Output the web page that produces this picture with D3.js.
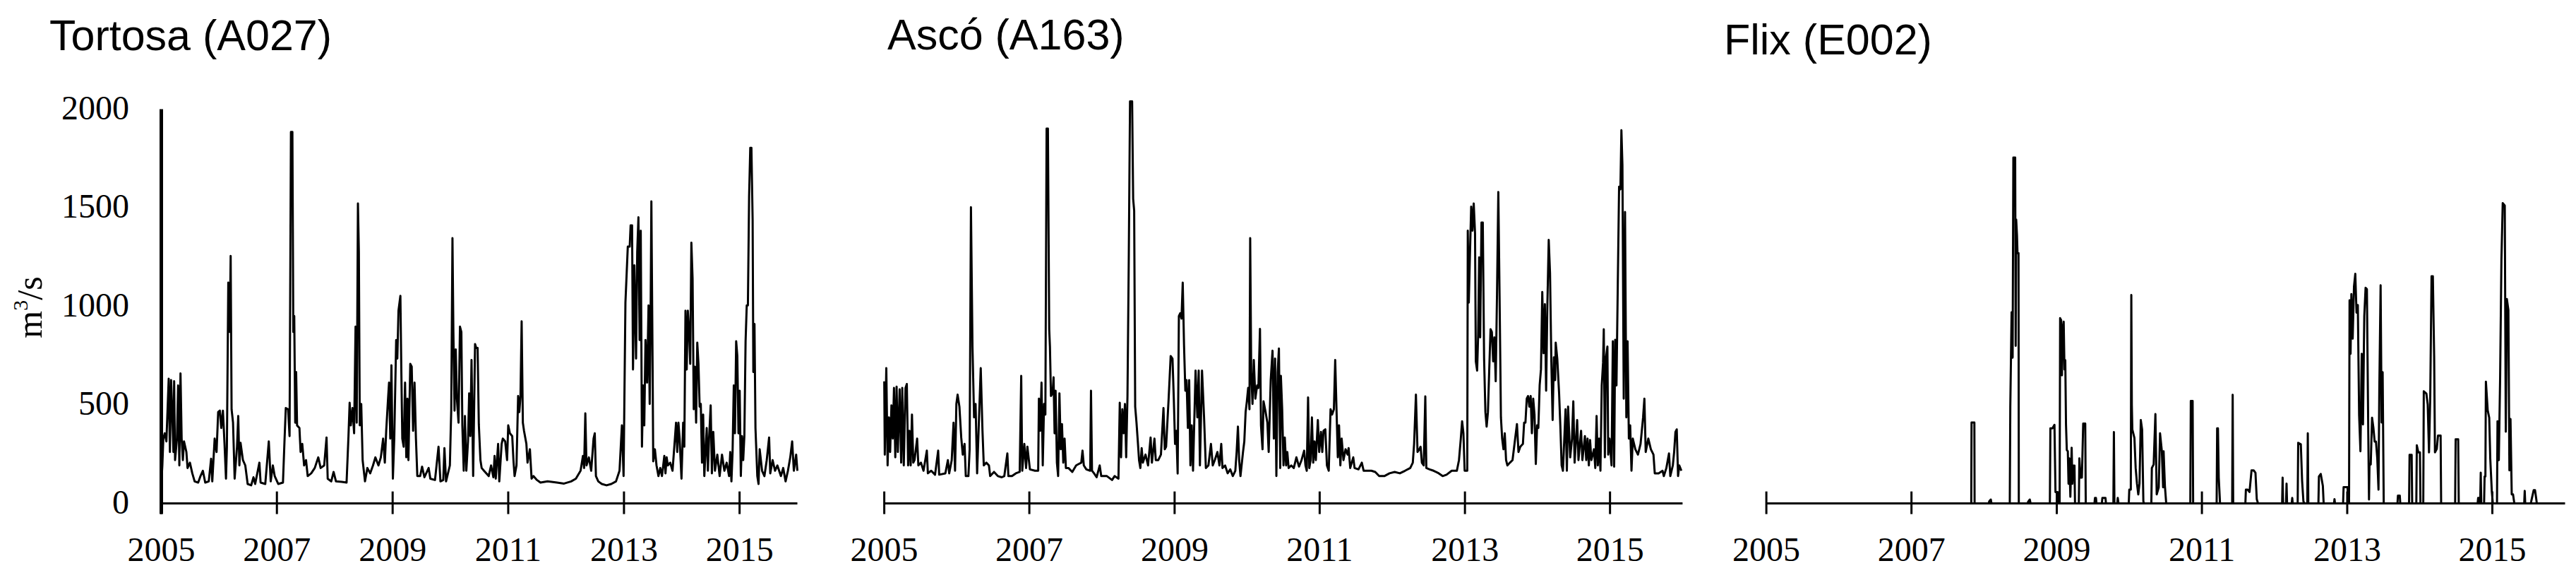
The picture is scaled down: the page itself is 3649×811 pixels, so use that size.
<!DOCTYPE html>
<html><head><meta charset="utf-8">
<script src="https://cdn.jsdelivr.net/npm/d3@7"></script>
<style>body{margin:0;background:#fff;} svg{display:block;}</style>
</head><body>
<svg id="chart" width="3649" height="811"></svg>
<script>
// ---- data ----
const tickYears = [2005, 2007, 2009, 2011, 2013, 2015];
const yTicks = [0, 500, 1000, 1500, 2000];
const stationNames = ["Tortosa (A027)", "Ascó (A163)", "Flix (E002)"];

// [decimal year, flow m3/s]
const tortosa = [[2005.000,100],[2005.018,193],[2005.035,329],[2005.059,356],[2005.088,315],[2005.128,633],[2005.149,261],[2005.169,626],[2005.189,464],[2005.210,261],[2005.222,620],[2005.238,220],[2005.271,329],[2005.291,599],[2005.312,193],[2005.332,660],[2005.352,329],[2005.373,220],[2005.393,315],[2005.434,261],[2005.454,180],[2005.495,207],[2005.536,153],[2005.577,112],[2005.638,106],[2005.678,139],[2005.719,166],[2005.760,106],[2005.821,112],[2005.862,227],[2005.882,112],[2005.923,329],[2005.956,261],[2005.984,464],[2006.013,471],[2006.037,383],[2006.066,471],[2006.094,302],[2006.119,126],[2006.135,288],[2006.159,1120],[2006.184,870],[2006.200,1256],[2006.216,478],[2006.241,410],[2006.269,126],[2006.310,288],[2006.331,444],[2006.351,193],[2006.371,308],[2006.412,220],[2006.453,193],[2006.494,99],[2006.555,92],[2006.595,133],[2006.624,99],[2006.697,207],[2006.718,106],[2006.799,99],[2006.860,315],[2006.893,112],[2006.930,193],[2006.962,139],[2007.023,99],[2007.105,106],[2007.133,329],[2007.154,484],[2007.194,478],[2007.219,342],[2007.243,1885],[2007.268,1885],[2007.284,870],[2007.300,951],[2007.317,410],[2007.333,667],[2007.349,396],[2007.390,383],[2007.410,261],[2007.439,302],[2007.471,193],[2007.504,220],[2007.533,139],[2007.594,153],[2007.655,180],[2007.716,234],[2007.757,180],[2007.818,193],[2007.859,335],[2007.879,126],[2007.940,112],[2007.981,160],[2008.022,112],[2008.123,110],[2008.205,106],[2008.238,342],[2008.258,511],[2008.278,396],[2008.307,484],[2008.335,356],[2008.360,897],[2008.380,410],[2008.401,1522],[2008.417,1276],[2008.433,396],[2008.458,505],[2008.482,220],[2008.523,112],[2008.564,180],[2008.612,153],[2008.661,193],[2008.702,234],[2008.755,193],[2008.796,234],[2008.836,329],[2008.865,207],[2008.889,369],[2008.918,518],[2008.938,613],[2008.959,329],[2008.979,701],[2009.004,126],[2009.028,329],[2009.061,829],[2009.081,735],[2009.101,978],[2009.134,1053],[2009.150,680],[2009.167,329],[2009.191,288],[2009.215,613],[2009.236,234],[2009.256,532],[2009.273,220],[2009.305,708],[2009.330,694],[2009.354,369],[2009.379,613],[2009.403,329],[2009.427,139],[2009.476,139],[2009.509,187],[2009.550,133],[2009.623,180],[2009.652,126],[2009.733,119],[2009.794,288],[2009.827,112],[2009.876,119],[2009.896,281],[2009.924,112],[2009.990,193],[2010.014,478],[2010.035,1346],[2010.051,870],[2010.071,471],[2010.092,782],[2010.112,532],[2010.140,410],[2010.165,897],[2010.189,870],[2010.206,396],[2010.230,166],[2010.251,444],[2010.275,166],[2010.304,315],[2010.324,559],[2010.344,342],[2010.365,728],[2010.393,139],[2010.426,809],[2010.446,789],[2010.470,789],[2010.491,403],[2010.519,220],[2010.540,180],[2010.580,166],[2010.662,139],[2010.703,193],[2010.743,133],[2010.764,241],[2010.784,126],[2010.825,302],[2010.845,112],[2010.886,302],[2010.906,329],[2010.947,315],[2010.980,220],[2011.000,396],[2011.029,356],[2011.069,342],[2011.090,220],[2011.110,139],[2011.143,193],[2011.171,545],[2011.192,464],[2011.212,545],[2011.232,924],[2011.253,410],[2011.273,369],[2011.314,302],[2011.334,207],[2011.375,275],[2011.404,126],[2011.436,139],[2011.497,119],[2011.558,106],[2011.681,112],[2011.844,106],[2011.966,101],[2012.088,112],[2012.170,126],[2012.251,166],[2012.292,241],[2012.312,180],[2012.333,457],[2012.353,193],[2012.394,234],[2012.434,166],[2012.455,248],[2012.475,329],[2012.496,356],[2012.516,139],[2012.557,112],[2012.618,99],[2012.699,92],[2012.781,99],[2012.862,112],[2012.923,166],[2012.964,396],[2012.993,139],[2013.025,1019],[2013.066,1303],[2013.099,1303],[2013.115,1411],[2013.140,1411],[2013.156,680],[2013.180,1208],[2013.209,735],[2013.229,1276],[2013.250,1452],[2013.270,829],[2013.290,1384],[2013.311,288],[2013.331,599],[2013.351,396],[2013.372,829],[2013.400,613],[2013.425,1005],[2013.445,505],[2013.461,964],[2013.474,1533],[2013.494,748],[2013.506,214],[2013.535,275],[2013.563,193],[2013.596,139],[2013.628,180],[2013.657,139],[2013.698,241],[2013.718,153],[2013.738,234],[2013.759,193],[2013.800,207],[2013.840,166],[2013.881,329],[2013.901,410],[2013.922,261],[2013.942,410],[2013.963,329],[2013.995,126],[2014.024,410],[2014.044,288],[2014.064,978],[2014.085,680],[2014.105,978],[2014.126,870],[2014.146,708],[2014.166,1323],[2014.187,1141],[2014.207,478],[2014.227,694],[2014.248,410],[2014.268,816],[2014.289,708],[2014.309,491],[2014.329,505],[2014.350,207],[2014.370,451],[2014.390,139],[2014.431,383],[2014.452,166],[2014.472,329],[2014.500,498],[2014.521,153],[2014.545,363],[2014.574,166],[2014.615,248],[2014.655,139],[2014.696,248],[2014.737,166],[2014.777,207],[2014.818,139],[2014.839,261],[2014.859,112],[2014.879,261],[2014.900,599],[2014.920,356],[2014.941,823],[2014.961,748],[2014.981,356],[2015.002,572],[2015.022,139],[2015.042,342],[2015.063,220],[2015.083,342],[2015.104,823],[2015.124,1005],[2015.144,1005],[2015.165,1560],[2015.185,1804],[2015.205,1804],[2015.226,1438],[2015.238,667],[2015.258,911],[2015.275,383],[2015.307,139],[2015.328,99],[2015.348,275],[2015.389,166],[2015.430,139],[2015.470,220],[2015.511,335],[2015.531,153],[2015.572,220],[2015.613,166],[2015.654,193],[2015.715,139],[2015.755,180],[2015.796,112],[2015.837,166],[2015.877,234],[2015.910,315],[2015.939,166],[2015.979,248],[2016.000,166]];

const asco = [[2005.000,620],[2005.007,248],[2005.028,687],[2005.046,193],[2005.064,437],[2005.081,261],[2005.099,498],[2005.117,329],[2005.134,586],[2005.152,234],[2005.170,593],[2005.187,261],[2005.212,579],[2005.233,207],[2005.248,586],[2005.269,193],[2005.293,586],[2005.311,606],[2005.329,193],[2005.347,369],[2005.364,193],[2005.382,451],[2005.400,207],[2005.417,220],[2005.453,329],[2005.470,193],[2005.506,207],[2005.541,166],[2005.587,268],[2005.601,153],[2005.647,166],[2005.700,146],[2005.743,268],[2005.757,146],[2005.842,153],[2005.877,220],[2005.895,153],[2005.930,220],[2005.955,410],[2005.976,166],[2005.994,505],[2006.011,552],[2006.036,491],[2006.061,335],[2006.082,248],[2006.107,302],[2006.124,139],[2006.160,139],[2006.177,275],[2006.195,1503],[2006.216,796],[2006.238,437],[2006.259,505],[2006.280,153],[2006.301,376],[2006.330,687],[2006.354,369],[2006.372,193],[2006.407,207],[2006.443,193],[2006.460,139],[2006.513,160],[2006.566,139],[2006.620,133],[2006.655,139],[2006.697,254],[2006.711,139],[2006.761,139],[2006.814,153],[2006.867,160],[2006.888,647],[2006.902,166],[2006.931,302],[2006.955,180],[2006.973,288],[2007.008,173],[2007.079,166],[2007.122,166],[2007.132,532],[2007.150,369],[2007.168,613],[2007.185,193],[2007.203,505],[2007.221,451],[2007.238,1902],[2007.256,1902],[2007.274,884],[2007.284,796],[2007.298,545],[2007.320,559],[2007.334,640],[2007.348,356],[2007.362,572],[2007.380,207],[2007.397,139],[2007.415,559],[2007.433,275],[2007.450,403],[2007.468,207],[2007.486,329],[2007.504,180],[2007.539,180],[2007.592,160],[2007.645,193],[2007.680,200],[2007.716,207],[2007.733,268],[2007.751,193],[2007.786,173],[2007.839,166],[2007.850,572],[2007.864,166],[2007.892,153],[2007.928,133],[2007.970,193],[2007.991,139],[2008.069,139],[2008.140,119],[2008.175,139],[2008.228,126],[2008.246,511],[2008.264,234],[2008.281,478],[2008.299,356],[2008.317,505],[2008.334,234],[2008.352,545],[2008.370,1249],[2008.387,2040],[2008.416,2040],[2008.430,1546],[2008.444,1486],[2008.458,491],[2008.476,410],[2008.494,315],[2008.511,220],[2008.529,180],[2008.547,281],[2008.564,207],[2008.600,248],[2008.635,193],[2008.670,335],[2008.688,207],[2008.723,329],[2008.741,220],[2008.776,220],[2008.812,248],[2008.847,484],[2008.865,275],[2008.883,288],[2008.918,532],[2008.946,748],[2008.971,735],[2008.989,532],[2009.006,302],[2009.024,369],[2009.042,152],[2009.059,951],[2009.077,965],[2009.095,938],[2009.112,1120],[2009.130,802],[2009.148,572],[2009.165,626],[2009.183,383],[2009.201,626],[2009.218,193],[2009.236,396],[2009.254,166],[2009.289,674],[2009.314,437],[2009.332,674],[2009.349,193],[2009.378,674],[2009.406,437],[2009.431,180],[2009.466,193],[2009.501,302],[2009.526,193],[2009.554,220],[2009.590,261],[2009.618,193],[2009.643,302],[2009.660,180],[2009.696,193],[2009.731,153],[2009.767,173],[2009.802,139],[2009.837,166],[2009.855,261],[2009.873,390],[2009.890,220],[2009.908,139],[2009.943,261],[2009.961,315],[2009.979,464],[2009.996,518],[2010.014,586],[2010.032,478],[2010.042,1346],[2010.056,667],[2010.074,505],[2010.092,728],[2010.113,532],[2010.138,599],[2010.155,586],[2010.177,886],[2010.191,396],[2010.212,275],[2010.226,518],[2010.254,464],[2010.279,410],[2010.297,261],[2010.325,626],[2010.350,775],[2010.368,329],[2010.385,735],[2010.403,139],[2010.421,667],[2010.438,786],[2010.456,180],[2010.465,647],[2010.483,478],[2010.501,193],[2010.519,335],[2010.537,193],[2010.554,261],[2010.572,180],[2010.608,193],[2010.643,180],[2010.679,234],[2010.715,187],[2010.750,220],[2010.786,268],[2010.804,193],[2010.822,166],[2010.840,538],[2010.857,180],[2010.875,220],[2010.893,437],[2010.911,207],[2010.929,315],[2010.947,220],[2010.975,423],[2010.993,261],[2011.018,363],[2011.036,261],[2011.053,369],[2011.078,376],[2011.100,193],[2011.125,166],[2011.150,478],[2011.171,451],[2011.196,478],[2011.214,728],[2011.232,478],[2011.250,234],[2011.267,396],[2011.285,193],[2011.303,329],[2011.328,220],[2011.357,275],[2011.385,248],[2011.399,281],[2011.421,180],[2011.463,234],[2011.481,180],[2011.535,173],[2011.581,207],[2011.606,166],[2011.660,166],[2011.713,166],[2011.766,160],[2011.820,139],[2011.891,139],[2011.963,153],[2012.034,160],[2012.105,153],[2012.176,166],[2012.248,180],[2012.283,207],[2012.301,302],[2012.326,552],[2012.348,261],[2012.373,275],[2012.390,288],[2012.408,207],[2012.433,193],[2012.455,543],[2012.469,180],[2012.515,173],[2012.569,166],[2012.640,153],[2012.693,139],[2012.747,146],[2012.818,166],[2012.889,166],[2012.918,220],[2012.943,329],[2012.961,417],[2012.979,356],[2012.996,166],[2013.032,166],[2013.039,1384],[2013.053,1019],[2013.068,1249],[2013.086,1506],[2013.103,1384],[2013.121,1522],[2013.139,1371],[2013.150,721],[2013.168,674],[2013.182,855],[2013.196,1249],[2013.210,843],[2013.228,1425],[2013.246,1425],[2013.264,735],[2013.282,464],[2013.299,390],[2013.317,464],[2013.335,680],[2013.353,884],[2013.371,870],[2013.389,721],[2013.406,843],[2013.424,620],[2013.442,1060],[2013.460,1580],[2013.478,1032],[2013.496,437],[2013.513,329],[2013.531,275],[2013.549,356],[2013.567,220],[2013.585,193],[2013.620,207],[2013.656,220],[2013.692,329],[2013.717,403],[2013.738,261],[2013.763,288],[2013.799,302],[2013.816,410],[2013.834,410],[2013.852,532],[2013.870,545],[2013.888,491],[2013.906,545],[2013.923,356],[2013.941,532],[2013.959,451],[2013.977,200],[2013.995,396],[2014.012,383],[2014.030,599],[2014.048,680],[2014.066,1073],[2014.084,762],[2014.102,1011],[2014.119,572],[2014.137,1019],[2014.155,1337],[2014.173,1169],[2014.191,721],[2014.209,423],[2014.226,741],[2014.244,626],[2014.251,816],[2014.273,735],[2014.298,559],[2014.315,396],[2014.333,193],[2014.351,166],[2014.387,478],[2014.405,166],[2014.422,491],[2014.451,234],[2014.476,329],[2014.494,518],[2014.512,207],[2014.547,423],[2014.565,220],[2014.601,369],[2014.619,220],[2014.654,342],[2014.672,220],[2014.690,329],[2014.708,193],[2014.725,322],[2014.743,220],[2014.779,275],[2014.797,180],[2014.815,444],[2014.832,193],[2014.850,329],[2014.868,166],[2014.886,599],[2014.904,714],[2014.914,884],[2014.929,234],[2014.943,735],[2014.964,796],[2014.975,248],[2014.993,329],[2015.021,193],[2015.039,823],[2015.057,187],[2015.071,830],[2015.089,599],[2015.107,1107],[2015.125,1607],[2015.143,1594],[2015.157,1894],[2015.171,1716],[2015.189,532],[2015.207,1479],[2015.225,437],[2015.242,823],[2015.260,329],[2015.278,396],[2015.296,166],[2015.314,329],[2015.349,275],[2015.385,248],[2015.421,302],[2015.456,437],[2015.474,532],[2015.492,261],[2015.528,329],[2015.563,275],[2015.599,248],[2015.617,153],[2015.670,153],[2015.724,166],[2015.742,139],[2015.777,180],[2015.813,254],[2015.831,139],[2015.866,193],[2015.884,261],[2015.902,363],[2015.920,376],[2015.938,139],[2015.955,193],[2015.984,166]];

const flix = [[2005.000,0],[2007.824,0],[2007.828,411],[2007.867,411],[2007.870,0],[2008.064,0],[2008.071,10],[2008.093,20],[2008.103,0],[2008.354,0],[2008.361,490],[2008.379,970],[2008.393,740],[2008.403,1755],[2008.428,1755],[2008.435,800],[2008.442,1440],[2008.453,1360],[2008.460,1270],[2008.474,1270],[2008.478,0],[2008.598,0],[2008.608,10],[2008.629,20],[2008.640,0],[2008.905,0],[2008.912,381],[2008.940,381],[2008.968,399],[2008.982,58],[2009.011,58],[2009.018,0],[2009.039,0],[2009.046,940],[2009.060,930],[2009.071,650],[2009.081,880],[2009.095,922],[2009.106,680],[2009.117,727],[2009.127,400],[2009.138,271],[2009.152,265],[2009.162,100],[2009.173,229],[2009.187,34],[2009.205,283],[2009.215,100],[2009.229,192],[2009.244,192],[2009.251,0],[2009.304,0],[2009.311,229],[2009.328,131],[2009.346,131],[2009.364,405],[2009.392,405],[2009.399,0],[2009.519,0],[2009.526,28],[2009.540,28],[2009.547,0],[2009.621,0],[2009.628,28],[2009.671,28],[2009.678,0],[2009.780,0],[2009.787,362],[2009.794,0],[2009.833,0],[2009.840,28],[2009.851,0],[2009.992,0],[2009.999,70],[2010.020,70],[2010.027,1058],[2010.034,500],[2010.041,375],[2010.070,332],[2010.087,180],[2010.105,101],[2010.123,46],[2010.140,101],[2010.158,423],[2010.176,375],[2010.193,10],[2010.204,0],[2010.303,0],[2010.310,180],[2010.335,198],[2010.359,454],[2010.377,46],[2010.405,82],[2010.423,356],[2010.448,265],[2010.465,82],[2010.472,265],[2010.490,89],[2010.508,0],[2010.840,0],[2010.847,520],[2010.872,520],[2010.879,0],[2011.203,0],[2011.210,381],[2011.221,381],[2011.232,131],[2011.250,0],[2011.417,0],[2011.424,551],[2011.431,0],[2011.599,0],[2011.606,70],[2011.631,70],[2011.656,58],[2011.684,168],[2011.713,168],[2011.738,156],[2011.756,22],[2011.774,0],[2012.105,0],[2012.112,131],[2012.119,0],[2012.159,0],[2012.166,101],[2012.173,0],[2012.237,0],[2012.244,28],[2012.251,0],[2012.319,0],[2012.326,308],[2012.362,300],[2012.380,113],[2012.398,10],[2012.415,0],[2012.451,0],[2012.458,356],[2012.465,0],[2012.604,0],[2012.611,137],[2012.636,150],[2012.665,89],[2012.676,0],[2012.818,0],[2012.825,22],[2012.832,0],[2012.943,0],[2012.950,83],[2013.004,83],[2013.014,0],[2013.025,0],[2013.032,1031],[2013.046,759],[2013.057,1062],[2013.075,836],[2013.093,1100],[2013.111,1165],[2013.128,968],[2013.146,1007],[2013.164,447],[2013.182,265],[2013.200,759],[2013.217,401],[2013.235,950],[2013.253,1094],[2013.271,1087],[2013.289,393],[2013.300,20],[2013.307,200],[2013.324,198],[2013.342,435],[2013.360,386],[2013.378,314],[2013.396,314],[2013.414,229],[2013.431,70],[2013.442,575],[2013.460,1107],[2013.474,411],[2013.488,666],[2013.503,0],[2013.692,0],[2013.699,40],[2013.724,40],[2013.731,0],[2013.852,0],[2013.859,247],[2013.888,247],[2013.895,0],[2013.952,0],[2013.959,295],[2013.980,259],[2014.002,259],[2014.009,0],[2014.048,0],[2014.055,569],[2014.091,557],[2014.109,502],[2014.127,259],[2014.144,539],[2014.162,1153],[2014.180,1153],[2014.198,745],[2014.209,259],[2014.234,277],[2014.251,344],[2014.287,344],[2014.294,0],[2014.487,0],[2014.494,326],[2014.529,326],[2014.537,0],[2014.797,0],[2014.804,28],[2014.822,28],[2014.832,0],[2014.840,156],[2014.847,0],[2014.886,0],[2014.893,137],[2014.904,137],[2014.911,618],[2014.936,472],[2014.957,435],[2014.971,229],[2014.993,58],[2015.007,0],[2015.064,0],[2015.071,417],[2015.089,220],[2015.107,636],[2015.125,1238],[2015.143,1524],[2015.171,1511],[2015.185,364],[2015.200,1037],[2015.221,981],[2015.235,168],[2015.250,429],[2015.267,46],[2015.285,46],[2015.303,0],[2015.439,0],[2015.446,64],[2015.453,0],[2015.528,0],[2015.535,10],[2015.570,68],[2015.588,68],[2015.606,20],[2015.613,0],[2016.000,0]];

// ---- drawing ----
const toDate = t => { const yr = Math.floor(t); const a = Date.UTC(yr,0,1), b = Date.UTC(yr+1,0,1); return new Date(a + (t-yr)*(b-a)); };

const svg = d3.select("#chart");
svg.append("rect").attr("width",3649).attr("height",811).attr("fill","#fff");

const serif = "'Liberation Serif','Times New Roman',serif";
const sans = "'Liberation Sans',Arial,sans-serif";

const y = d3.scaleLinear().domain([0, 2000]).range([712.6, 154.6]);

const panels = [
  {name: stationNames[0], data: tortosa, x0: 228.5, x1: 1129.5, tx: 70, ty: 71, yAxis: true},
  {name: stationNames[1], data: asco, x0: 1252.6, x1: 2383.4, tx: 1257, ty: 70, yAxis: false},
  {name: stationNames[2], data: flix, x0: 2502.1, x1: 3633.3, tx: 2442, ty: 77, yAxis: false}
];

panels.forEach(p => {
  const g = svg.append("g");
  const x = d3.scaleUtc().domain([toDate(2005), toDate(2016)]).range([p.x0, p.x1]);

  g.append("text").attr("x", p.tx).attr("y", p.ty)
    .attr("font-family", sans).attr("font-size", 61).attr("fill", "#000")
    .text(p.name);

  const line = d3.line().x(d => x(toDate(d[0]))).y(d => y(d[1]));
  g.append("path").datum(p.data).attr("d", line)
    .attr("fill", "none").attr("stroke", "#000").attr("stroke-width", 3)
    .attr("stroke-linejoin", "round");

  g.append("line").attr("x1", p.x0).attr("x2", p.x1).attr("y1", y(0)).attr("y2", y(0))
    .attr("stroke", "#000").attr("stroke-width", 3);

  g.selectAll(".tk").data(tickYears).enter().append("line")
    .attr("x1", d => x(toDate(d))).attr("x2", d => x(toDate(d)))
    .attr("y1", y(0) - 17).attr("y2", y(0) + 15)
    .attr("stroke", "#000").attr("stroke-width", 3);

  g.selectAll(".tl").data(tickYears).enter().append("text")
    .attr("x", d => x(toDate(d))).attr("y", 794)
    .attr("text-anchor", "middle").attr("font-family", serif).attr("font-size", 48).attr("fill", "#000")
    .text(d => d);

  if (p.yAxis) {
    g.append("line").attr("x1", p.x0).attr("x2", p.x0).attr("y1", y(2000)).attr("y2", y(0) + 15)
      .attr("stroke", "#000").attr("stroke-width", 5);
    g.selectAll(".yl").data(yTicks).enter().append("text")
      .attr("x", 183).attr("y", d => y(d) + 14)
      .attr("text-anchor", "end").attr("font-family", serif).attr("font-size", 48).attr("fill", "#000")
      .text(d => d);
    const lab = g.append("text").attr("transform", "translate(59,435) rotate(-90)")
      .attr("text-anchor", "middle").attr("font-family", serif).attr("font-size", 50).attr("fill", "#000");
    lab.append("tspan").text("m");
    lab.append("tspan").attr("font-size", 30).attr("dy", -20).text("3");
    lab.append("tspan").attr("dy", 20).text("/s");
  }
});
</script>
</body></html>
